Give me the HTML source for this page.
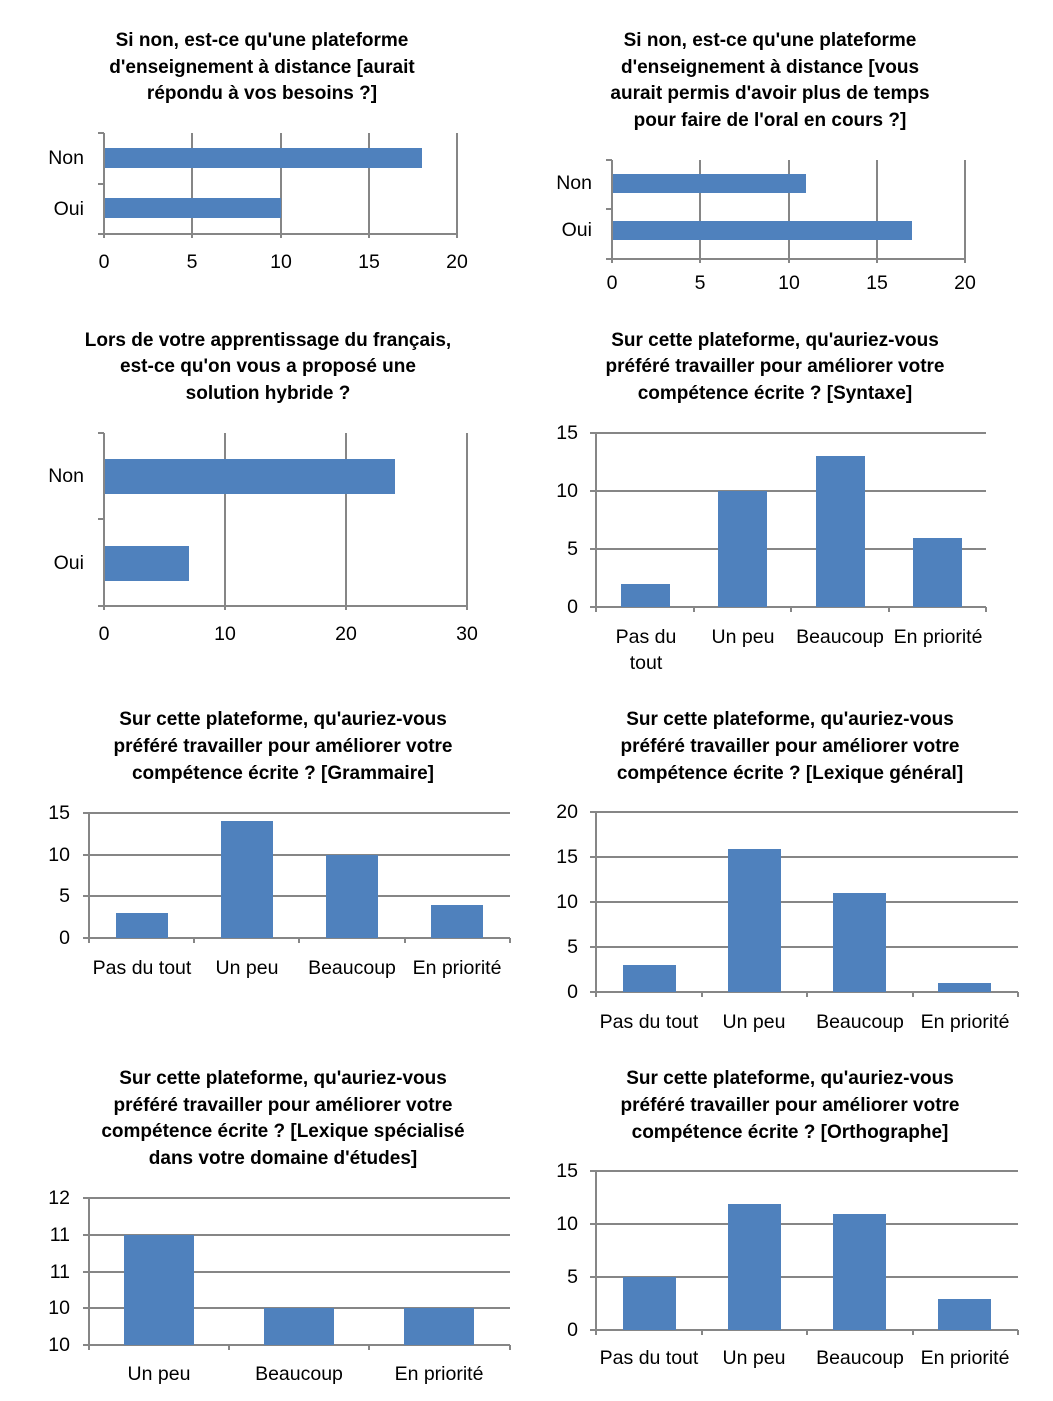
<!DOCTYPE html>
<html><head><meta charset="utf-8"><style>
body{margin:0;background:#fff}
svg{display:block}
text{font-family:"Liberation Sans",sans-serif;fill:#000}
.t{font-size:19px;font-weight:bold;text-anchor:middle}
.l{font-size:19.5px}
.m{text-anchor:middle}
.e{text-anchor:end}
.g{stroke:#868686;stroke-width:2;fill:none}
.b{fill:#4f81bd}
</style></head><body>
<svg width="1053" height="1401" viewBox="0 0 1053 1401">
<!-- Chart 1 -->
<text class="t" x="262" y="46">Si non, est-ce qu'une plateforme</text>
<text class="t" x="262" y="73">d'enseignement à distance [aurait</text>
<text class="t" x="262" y="99">répondu à vos besoins ?]</text>
<path class="g" d="M192 133V234M281 133V234M369 133V234M457 133V234M104 133V238M98 234H457M98 133H104M98 184H104M192 234V238M281 234V238M369 234V238M457 234V238"/>
<rect class="b" x="105" y="148" width="317" height="20"/>
<rect class="b" x="105" y="198" width="176" height="20"/>
<text class="l e" x="84" y="164">Non</text><text class="l e" x="84" y="215">Oui</text>
<text class="l m" x="104" y="268">0</text><text class="l m" x="192" y="268">5</text><text class="l m" x="281" y="268">10</text><text class="l m" x="369" y="268">15</text><text class="l m" x="457" y="268">20</text>
<!-- Chart 2 -->
<text class="t" x="770" y="46">Si non, est-ce qu'une plateforme</text>
<text class="t" x="770" y="73">d'enseignement à distance [vous</text>
<text class="t" x="770" y="99">aurait permis d'avoir plus de temps</text>
<text class="t" x="770" y="126">pour faire de l'oral en cours ?]</text>
<path class="g" d="M700 160V259M789 160V259M877 160V259M965 160V259M612 160V263M606 259H965M606 160H612M606 209H612M700 259V263M789 259V263M877 259V263M965 259V263"/>
<rect class="b" x="613" y="174" width="193" height="19"/>
<rect class="b" x="613" y="221" width="299" height="19"/>
<text class="l e" x="592" y="189">Non</text><text class="l e" x="592" y="236">Oui</text>
<text class="l m" x="612" y="289">0</text><text class="l m" x="700" y="289">5</text><text class="l m" x="789" y="289">10</text><text class="l m" x="877" y="289">15</text><text class="l m" x="965" y="289">20</text>
<!-- Chart 3 -->
<text class="t" x="268" y="346">Lors de votre apprentissage du français,</text>
<text class="t" x="268" y="372">est-ce qu'on vous a proposé une</text>
<text class="t" x="268" y="399">solution hybride ?</text>
<path class="g" d="M225 433V606M346 433V606M467 433V606M104 433V610M98 606H467M98 433H104M98 519H104M225 606V610M346 606V610M467 606V610"/>
<rect class="b" x="105" y="459" width="290" height="35"/>
<rect class="b" x="105" y="546" width="84" height="35"/>
<text class="l e" x="84" y="482">Non</text><text class="l e" x="84" y="569">Oui</text>
<text class="l m" x="104" y="640">0</text><text class="l m" x="225" y="640">10</text><text class="l m" x="346" y="640">20</text><text class="l m" x="467" y="640">30</text>
<!-- Chart 4 -->
<text class="t" x="775" y="346">Sur cette plateforme, qu'auriez-vous</text>
<text class="t" x="775" y="372">préféré travailler pour améliorer votre</text>
<text class="t" x="775" y="399">compétence écrite ? [Syntaxe]</text>
<path class="g" d="M590 433H986M590 491H986M590 549H986M590 607H986M596 433V607M596 607V612M694 607V612M791 607V612M889 607V612M986 607V612"/>
<rect class="b" x="621" y="584" width="49" height="23"/>
<rect class="b" x="718" y="491" width="49" height="116"/>
<rect class="b" x="816" y="456" width="49" height="151"/>
<rect class="b" x="913" y="538" width="49" height="69"/>
<text class="l e" x="578" y="439">15</text><text class="l e" x="578" y="497">10</text><text class="l e" x="578" y="555">5</text><text class="l e" x="578" y="613">0</text>
<text class="l m" x="646" y="643">Pas du</text><text class="l m" x="646" y="669">tout</text><text class="l m" x="743" y="643">Un peu</text><text class="l m" x="840" y="643">Beaucoup</text><text class="l m" x="938" y="643">En priorité</text>
<!-- Chart 5 -->
<text class="t" x="283" y="725">Sur cette plateforme, qu'auriez-vous</text>
<text class="t" x="283" y="752">préféré travailler pour améliorer votre</text>
<text class="t" x="283" y="779">compétence écrite ? [Grammaire]</text>
<path class="g" d="M83 813H510M83 855H510M83 896H510M83 938H510M89 813V938M89 938V943M194 938V943M299 938V943M405 938V943M510 938V943"/>
<rect class="b" x="116" y="913" width="52" height="25"/>
<rect class="b" x="221" y="821" width="52" height="117"/>
<rect class="b" x="326" y="855" width="52" height="83"/>
<rect class="b" x="431" y="905" width="52" height="33"/>
<text class="l e" x="70" y="819">15</text><text class="l e" x="70" y="861">10</text><text class="l e" x="70" y="902">5</text><text class="l e" x="70" y="944">0</text>
<text class="l m" x="142" y="974">Pas du tout</text><text class="l m" x="247" y="974">Un peu</text><text class="l m" x="352" y="974">Beaucoup</text><text class="l m" x="457" y="974">En priorité</text>
<!-- Chart 6 -->
<text class="t" x="790" y="725">Sur cette plateforme, qu'auriez-vous</text>
<text class="t" x="790" y="752">préféré travailler pour améliorer votre</text>
<text class="t" x="790" y="779">compétence écrite ? [Lexique général]</text>
<path class="g" d="M590 812H1018M590 857H1018M590 902H1018M590 947H1018M590 992H1018M596 812V992M596 992V997M702 992V997M807 992V997M913 992V997M1018 992V997"/>
<rect class="b" x="623" y="965" width="53" height="27"/>
<rect class="b" x="728" y="849" width="53" height="143"/>
<rect class="b" x="833" y="893" width="53" height="99"/>
<rect class="b" x="938" y="983" width="53" height="9"/>
<text class="l e" x="578" y="818">20</text><text class="l e" x="578" y="863">15</text><text class="l e" x="578" y="908">10</text><text class="l e" x="578" y="953">5</text><text class="l e" x="578" y="998">0</text>
<text class="l m" x="649" y="1028">Pas du tout</text><text class="l m" x="754" y="1028">Un peu</text><text class="l m" x="860" y="1028">Beaucoup</text><text class="l m" x="965" y="1028">En priorité</text>
<!-- Chart 7 -->
<text class="t" x="283" y="1084">Sur cette plateforme, qu'auriez-vous</text>
<text class="t" x="283" y="1111">préféré travailler pour améliorer votre</text>
<text class="t" x="283" y="1137">compétence écrite ? [Lexique spécialisé</text>
<text class="t" x="283" y="1164">dans votre domaine d'études]</text>
<path class="g" d="M83 1198H510M83 1235H510M83 1272H510M83 1308H510M83 1345H510M89 1198V1345M89 1345V1350M229 1345V1350M369 1345V1350M510 1345V1350"/>
<rect class="b" x="124" y="1235" width="70" height="110"/>
<rect class="b" x="264" y="1308" width="70" height="37"/>
<rect class="b" x="404" y="1308" width="70" height="37"/>
<text class="l e" x="70" y="1204">12</text><text class="l e" x="70" y="1241">11</text><text class="l e" x="70" y="1278">11</text><text class="l e" x="70" y="1314">10</text><text class="l e" x="70" y="1351">10</text>
<text class="l m" x="159" y="1380">Un peu</text><text class="l m" x="299" y="1380">Beaucoup</text><text class="l m" x="439" y="1380">En priorité</text>
<!-- Chart 8 -->
<text class="t" x="790" y="1084">Sur cette plateforme, qu'auriez-vous</text>
<text class="t" x="790" y="1111">préféré travailler pour améliorer votre</text>
<text class="t" x="790" y="1138">compétence écrite ? [Orthographe]</text>
<path class="g" d="M590 1171H1018M590 1224H1018M590 1277H1018M590 1330H1018M596 1171V1330M596 1330V1335M702 1330V1335M807 1330V1335M913 1330V1335M1018 1330V1335"/>
<rect class="b" x="623" y="1277" width="53" height="53"/>
<rect class="b" x="728" y="1204" width="53" height="126"/>
<rect class="b" x="833" y="1214" width="53" height="116"/>
<rect class="b" x="938" y="1299" width="53" height="31"/>
<text class="l e" x="578" y="1177">15</text><text class="l e" x="578" y="1230">10</text><text class="l e" x="578" y="1283">5</text><text class="l e" x="578" y="1336">0</text>
<text class="l m" x="649" y="1364">Pas du tout</text><text class="l m" x="754" y="1364">Un peu</text><text class="l m" x="860" y="1364">Beaucoup</text><text class="l m" x="965" y="1364">En priorité</text>
</svg>
</body></html>
